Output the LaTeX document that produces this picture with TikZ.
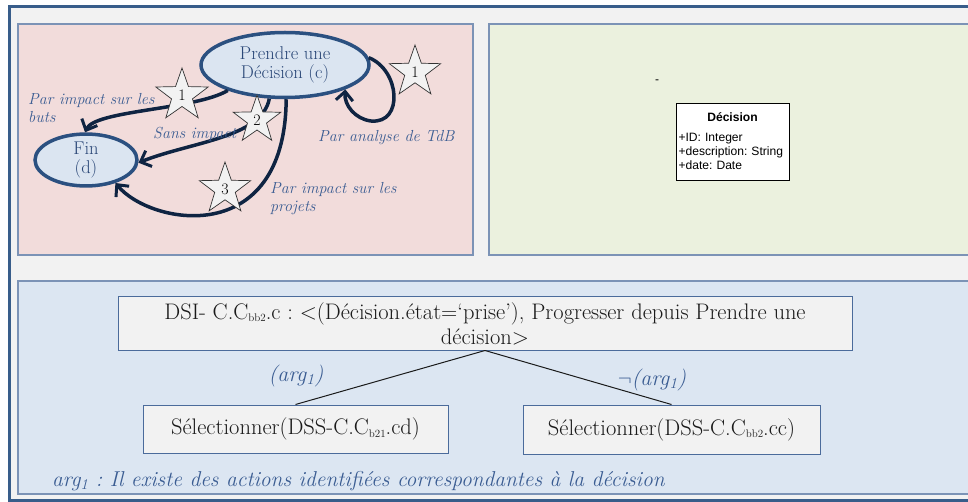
\documentclass[tikz,border=0pt]{standalone}
\usepackage{fontspec}
\newfontfamily\umlfont{Liberation Sans}
\usetikzlibrary{shapes.geometric,arrows.meta}
\definecolor{outerblue}{HTML}{385D8A}
\definecolor{outerfill}{HTML}{F2F2F2}
\definecolor{panelline}{HTML}{7C93B6}
\definecolor{pinkfill}{HTML}{F2DCDB}
\definecolor{greenfill}{HTML}{EBF1DE}
\definecolor{bluefill}{HTML}{DCE6F2}
\definecolor{ellfill}{HTML}{DBE5F1}
\definecolor{ellline}{HTML}{2B5080}
\definecolor{arrowcol}{HTML}{0F2442}
\definecolor{labcol}{HTML}{3A5C92}
\definecolor{elltext}{HTML}{2B4878}
\definecolor{boxline}{HTML}{4B6B9B}
\definecolor{dsitext}{HTML}{1A1A1A}
\newcommand{\smallsub}[1]{\raisebox{-0.25ex}{\fontsize{11}{11}\selectfont #1}}
\frenchspacing
\begin{document}
\begin{tikzpicture}[x=1pt,y=-1pt,
  panel/.style={draw=panelline,line width=1.5pt},
  state/.style={ellipse,draw=ellline,line width=3.5pt,fill=ellfill,text=elltext,
    align=center,inner sep=0pt,font=\fontsize{18.5}{19.5}\selectfont},
  trans/.style={draw=arrowcol,line width=3.5pt,
    -{Straight Barb[length=9pt,width=17pt,line width=3pt]}},
  starnode/.style={star,star points=5,star point ratio=2.5,draw=black!80,
    line width=0.7pt,fill=outerfill,inner sep=0pt,
    font=\fontsize{16}{16}\selectfont},
  lab/.style={text=labcol,font=\fontsize{16}{18}\selectfont\itshape,align=left,
    inner sep=0pt},
  treebox/.style={draw=boxline,line width=1pt,fill=outerfill,text=dsitext,
    align=center,inner sep=0pt},
  treefont/.style={font=\fontsize{22.5}{25}\selectfont},
  arglab/.style={text=labcol,font=\fontsize{22}{24}\selectfont\itshape,inner sep=0pt},
  umlbox/.style={draw=black,line width=0.8pt,fill=white,inner sep=2.5pt,
    text width=108pt,align=left,font=\umlfont\fontsize{12.1}{14.3}\selectfont}
]
\useasboundingbox (0,0) rectangle (968,502);
\clip (0,0) rectangle (968,502);
% outer frame
\draw[line width=3pt,draw=outerblue,fill=outerfill] (9,7) rectangle (990,500.5);
% panels
\draw[panel,fill=pinkfill] (18,24) rectangle (473,255);
\draw[panel,fill=greenfill] (489,24) rectangle (990,255);
\draw[panel,fill=bluefill] (18,281) rectangle (990,494);

% state diagram
\node[state,minimum width=168pt,minimum height=65pt] (dec) at (285,65) {Prendre une\\D\'ecision (c)};
\node[state,minimum width=102pt,minimum height=45pt] (fin) at (86,160) {Fin\\(d)};

\draw[trans] (dec.204) .. controls (195,110) and (95,110) .. (fin.92);
\draw[trans] (dec.245) .. controls (262,138) and (190,142) .. (fin.-3);
\draw[trans] (dec.272) .. controls (285,250) and (150,225) .. (fin.-38);
\draw[trans] (dec.5) .. controls (400,70) and (404,124) .. (371,121)
  .. controls (355,119) and (344,105) .. (dec.-22);

\node[starnode,minimum size=55pt] (st1) at (182,95.5) {1};
\node[starnode,minimum size=50pt] (st2) at (257,120) {2};
\node[starnode,minimum size=54pt] (st3) at (225,189) {3};
\node[starnode,minimum size=54pt] (st4) at (415,72) {1};

\node[lab,anchor=west] (l1) at (28,108) {Par impact sur les\\buts};
\node[lab,anchor=west] (l2) at (153,134) {Sans impact};
\node[lab,anchor=west] (l3) at (318,138) {Par analyse de TdB};
\node[lab,anchor=west] (l4) at (270,199) {Par impact sur les\\projets};

% class box
\node[font=\umlfont\fontsize{12}{12}\selectfont,inner sep=0pt] (dash) at (657,82) {-};
\node[umlbox,minimum height=77pt] (uml) at (732.5,141.5)
  {\makebox[\linewidth][c]{\bfseries D\'ecision}\\[5pt]
   +ID: Integer\\+description: String\\+date: Date};

% tree
\node[treebox,treefont,minimum width=734pt,minimum height=53pt] (dsi) at (485,323.5)
  {DSI- C.C\smallsub{bb2}.c : <(D\'ecision.\'etat=‘prise’), Progresser depuis Prendre une\\d\'ecision>};
\node[treebox,treefont,minimum width=305pt,minimum height=48pt] (lb) at (295.5,429)
  {S\'electionner(DSS-C.C\smallsub{b21}.cd)};
\node[treebox,treefont,minimum width=297pt,minimum height=49pt] (rb) at (671.5,429.5)
  {S\'electionner(DSS-C.C\smallsub{bb2}.cc)};
\draw[line width=1pt,draw=dsitext] (dsi.south) -- (lb.north);
\draw[line width=1pt,draw=dsitext] (dsi.south) -- (rb.north);
\node[arglab] (a1) at (296,376) {(arg\textsubscript{1})};
\node[arglab] (a2) at (652,380) {$\neg$(arg\textsubscript{1})};
\node[arglab,anchor=west,font=\fontsize{21.5}{24}\selectfont\itshape] (a3) at (52,481) {arg\textsubscript{1} : Il existe des actions identifi\'ees correspondantes \`a la d\'ecision};
\end{tikzpicture}
\end{document}
